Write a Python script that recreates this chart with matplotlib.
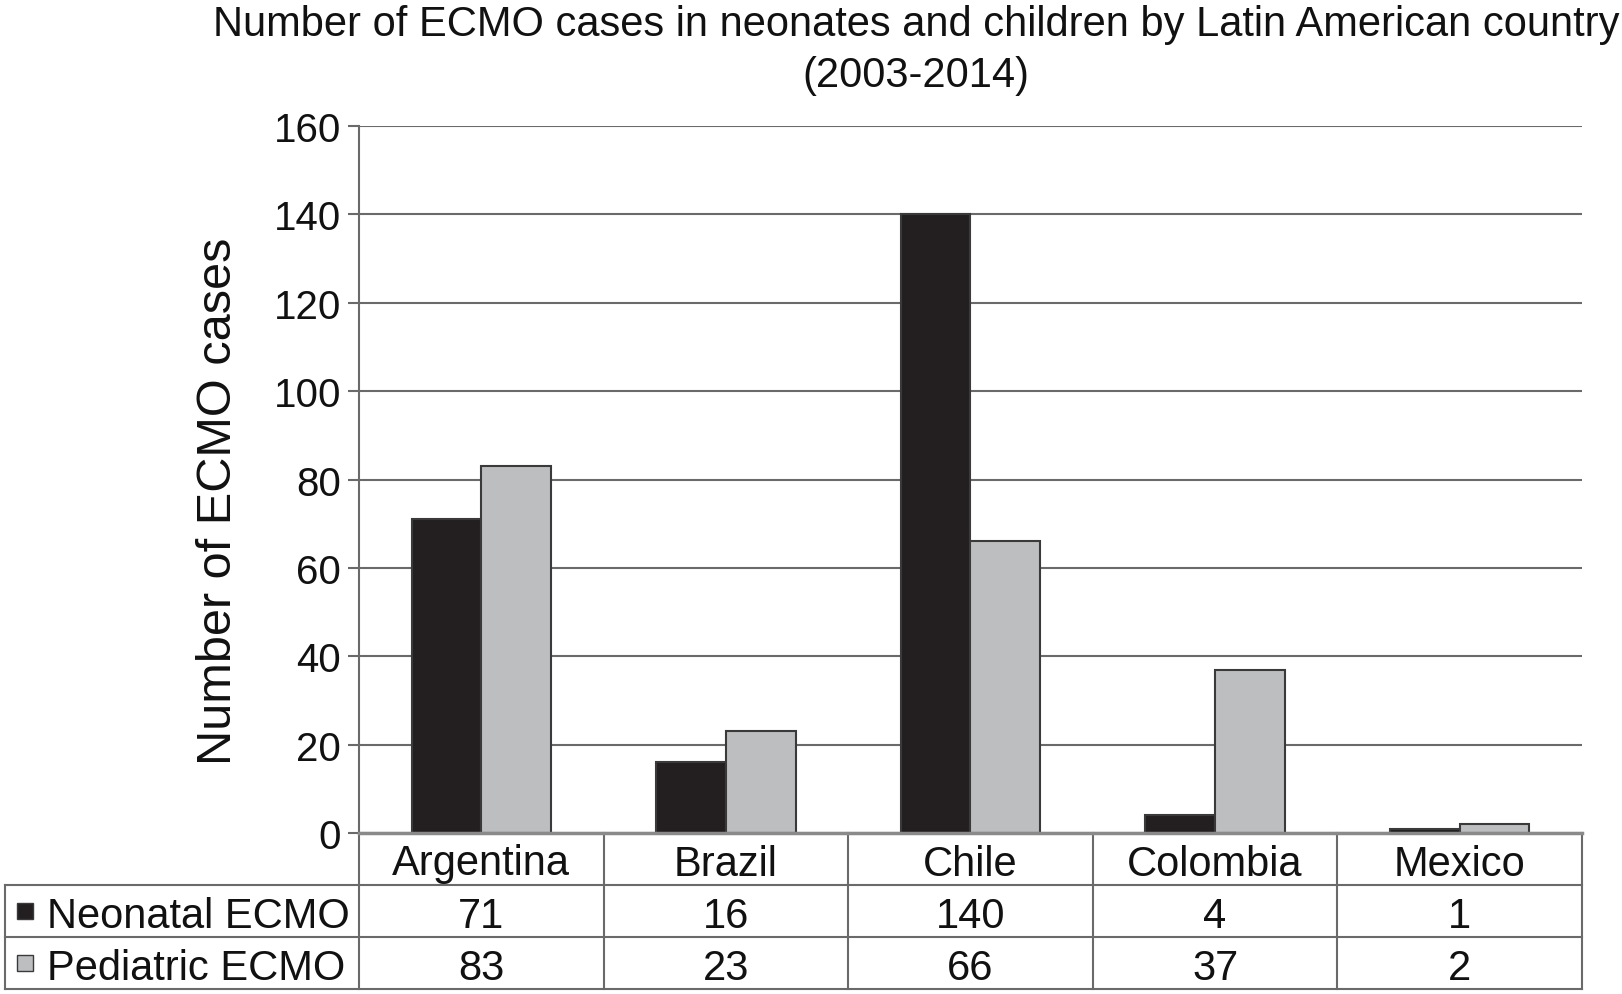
import numpy as np
import matplotlib
matplotlib.use('Agg')
import matplotlib.pyplot as plt
from matplotlib.transforms import blended_transform_factory

countries = ['Argentina', 'Brazil', 'Chile', 'Colombia', 'Mexico']
neonatal = [71, 16, 140, 4, 1]
pediatric = [83, 23, 66, 37, 2]
series_names = ['Neonatal ECMO', 'Pediatric ECMO']
yticks = [0, 20, 40, 60, 80, 100, 120, 140, 160]

plt.rcParams['font.family'] = ['Liberation Sans', 'DejaVu Sans']

W, H = 1622, 995
fig = plt.figure(figsize=(W / 100, H / 100), dpi=100)
# axes box in pixels: left 359, right 1582, top 127, bottom 834
ax = fig.add_axes([359 / W, 1 - 834 / H, (1582 - 359) / W, (834 - 127) / H])

dark = '#231f20'
light = '#bcbec0'
edge = '#3a3a3a'
line_c = '#6a6a6a'
txt = '#111111'

x = np.arange(len(countries))
bw = 0.285
ax.bar(x - bw / 2, neonatal, bw, color=dark, edgecolor=edge, linewidth=1.5, zorder=3)
ax.bar(x + bw / 2, pediatric, bw, color=light, edgecolor=edge, linewidth=1.5, zorder=3)

ax.set_xlim(-0.5, len(countries) - 0.5)
ax.set_ylim(0, 160)
ax.set_yticks(yticks)
ax.tick_params(axis='y', labelsize=29, length=8, width=1.5, pad=5, colors=txt)
ax.tick_params(axis='y', color=line_c)
ax.set_xticks([])
ax.yaxis.grid(True, color=line_c, linewidth=1.5, zorder=0)
for s in ['top', 'right', 'bottom']:
    ax.spines[s].set_visible(False)
ax.spines['left'].set_color(line_c)
ax.spines['left'].set_linewidth(1.5)
ax.axhline(0, color='#8a8a8a', linewidth=2.5, zorder=4, clip_on=False)

fig.text(219 / W, 1 - 501 / H, 'Number of ECMO cases', rotation=90, fontsize=35,
         ha='center', va='center', color=txt)
fig.text(916 / W, 1 - 36 / H, 'Number of ECMO cases in neonates and children by Latin American country',
         fontsize=30, ha='center', va='baseline', color=txt)
fig.text(916 / W, 1 - 87 / H, '(2003-2014)', fontsize=30, ha='center', va='baseline', color=txt)

# data table under the axis
tr = blended_transform_factory(ax.transData, ax.transAxes)
rh = 52 / (834 - 127)
xl = -(359 - 5) / (1582 - 359)
n = len(countries)
kw = dict(color=line_c, linewidth=1.5, clip_on=False)
for k in range(1, 4):
    ax.plot([xl, 1], [-k * rh, -k * rh], transform=ax.transAxes, **kw)
for b in np.arange(n + 1) - 0.5:
    ax.plot([b, b], [0, -3 * rh], transform=tr, **kw)
ax.plot([xl, xl], [-rh, -3 * rh], transform=ax.transAxes, **kw)

for i, c in enumerate(countries):
    ax.text(i, -0.5 * rh, c, transform=tr, ha='center', va='center_baseline', fontsize=30, color=txt)
    ax.text(i, -1.5 * rh, str(neonatal[i]), transform=tr, ha='center', va='center_baseline', fontsize=30, color=txt)
    ax.text(i, -2.5 * rh, str(pediatric[i]), transform=tr, ha='center', va='center_baseline', fontsize=30, color=txt)

for r, (name, col) in enumerate(zip(series_names, [dark, light])):
    yy = -(1.5 + r) * rh
    ax.plot([xl + 0.016], [yy], transform=ax.transAxes, marker='s', markersize=11,
            color=col, markeredgecolor=edge, markeredgewidth=1, clip_on=False)
    ax.text(xl + 0.034, yy, name, transform=ax.transAxes, ha='left', va='center_baseline',
            fontsize=30, color=txt)

fig.savefig('out.png', dpi=100)
